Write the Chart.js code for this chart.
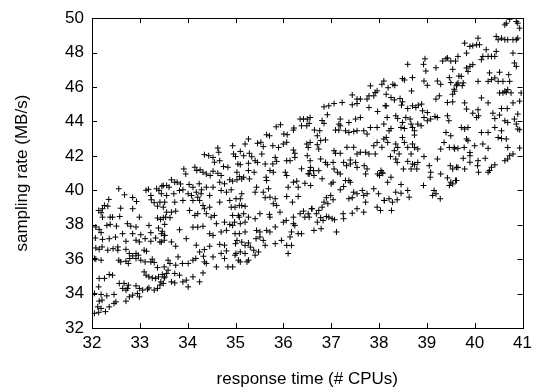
<!DOCTYPE html>
<html><head><meta charset="utf-8">
<style>html,body{margin:0;padding:0;background:#fff}#wrap{width:537px;height:392px}</style>
<script src="https://cdn.jsdelivr.net/npm/chart.js@4/dist/chart.umd.min.js"></script>
</head><body><div id="wrap"><canvas id="c" width="537" height="392"></canvas></div>
<script>
const xTickValues = [32,33,34,35,36,37,38,39,40,41];
const yTickValues = [32,34,36,38,40,42,44,46,48,50];
const xTitle = 'response time (# CPUs)';
const yTitle = 'sampling rate (MB/s)';

const zoneA = [[32.56,40.09],[33.13,40.0],[33.18,40.06],[33.35,40.09],[33.40,40.0],[33.46,40.24],[33.23,39.70],[33.24,39.45],[32.68,39.74],[32.85,39.58],[32.93,39.35],[32.35,39.47],[33.30,39.28],[33.37,39.08],[33.42,39.31],[32.26,39.12],[32.33,39.08],[32.22,38.93],[32.14,38.83],[32.19,38.70],[32.60,38.96],[32.85,38.93],[32.99,38.44],[32.43,38.44],[32.38,38.44],[32.58,38.48],[32.22,38.44],[33.37,38.39],[33.43,38.31],[33.54,38.44],[32.08,37.87],[32.15,37.73],[32.31,37.96],[32.38,38.02],[32.51,37.92],[32.74,38.06],[32.81,37.92],[32.92,37.87],[33.19,37.96],[33.23,37.54],[33.39,37.81],[33.47,37.62],[33.51,37.38],[32.64,37.48],[32.85,37.48],[33.02,37.42],[32.19,37.54]];
const zoneB = [[32.07,37.23],[32.22,37.15],[32.36,37.19],[32.49,37.28],[32.71,37.04],[32.92,37.10],[32.99,37.0],[33.11,37.19],[33.23,37.04],[33.33,37.23],[33.42,37.0],[33.51,37.10],[32.08,36.65],[32.15,36.57],[32.21,36.71],[32.33,36.52],[32.44,36.61],[32.54,36.71],[32.54,36.52],[32.71,36.57],[32.78,36.33],[32.85,36.19],[32.92,36.33],[32.97,36.23],[33.09,36.52],[33.14,36.46],[32.05,36.04],[32.08,36.0],[32.19,35.94],[32.56,35.94],[32.60,35.84],[32.71,35.88],[32.76,35.75],[32.79,36.04],[32.92,36.04],[33.02,35.94],[33.11,35.84],[33.23,35.84],[33.26,36.0],[33.30,35.81],[33.37,35.51],[33.51,35.55],[33.09,35.26],[33.13,35.07],[33.19,34.97],[33.26,34.91],[33.33,34.88],[33.39,34.97],[33.47,35.11],[33.51,34.91],[33.44,34.68],[32.15,34.88],[32.26,34.88],[32.36,35.11],[32.43,35.07],[32.14,34.39],[32.57,34.59],[32.67,34.59],[32.76,34.49],[32.64,34.30],[32.74,34.30],[32.71,34.20],[32.92,34.45],[32.99,34.30],[33.06,34.20],[33.16,34.26],[33.19,34.33],[33.30,34.20],[33.37,34.30],[32.05,34.01],[32.19,33.95],[32.31,33.87],[32.46,33.95],[32.50,33.52],[32.71,33.56],[32.78,33.81],[32.85,33.91],[32.95,34.01],[32.99,33.81],[32.12,33.23],[32.19,33.14],[32.14,32.91],[32.28,32.95],[32.36,33.23],[32.46,33.43],[32.05,32.85],[32.15,33.56],[32.21,33.62]];
const zoneC = [[34.63,42.46],[34.65,42.21],[34.94,42.59],[34.35,42.07],[34.44,42.01],[34.53,41.91],[34.56,41.63],[34.67,41.72],[34.75,41.38],[34.84,41.34],[35.0,41.96],[35.05,41.53],[33.92,41.24],[33.96,40.95],[34.15,41.34],[34.19,41.15],[34.26,41.19],[34.32,41.05],[34.39,40.95],[34.47,40.86],[34.53,41.11],[34.63,40.99],[34.70,40.86],[33.66,40.61],[33.73,40.47],[33.78,40.47],[33.85,40.37],[33.49,40.28],[33.56,40.28],[33.61,40.18],[34.03,40.34],[34.11,40.18],[34.24,40.38],[34.29,40.03],[34.39,40.18],[34.53,40.18],[34.67,40.47],[34.77,40.38],[34.88,40.61],[34.94,40.53],[35.03,40.61],[35.08,40.80],[33.45,39.80],[33.56,39.70],[33.71,39.80],[33.83,39.99],[33.90,40.03],[34.01,39.80],[34.08,39.70],[34.18,39.89],[34.21,39.60],[34.28,39.80],[34.46,39.70],[34.70,39.99],[34.81,39.89],[34.91,40.03],[33.52,39.31],[33.73,39.31],[33.90,39.41],[34.11,39.41],[34.25,39.41],[34.32,39.12],[34.46,39.02],[34.67,39.31],[34.88,39.41],[35.01,39.51],[35.08,39.12],[33.49,39.02],[33.56,38.73],[33.66,38.73],[33.75,38.79],[34.04,38.83],[34.15,38.54],[34.21,38.64],[34.35,38.93],[34.39,38.64],[34.49,38.44],[34.56,38.54],[34.91,39.02],[34.94,38.54],[35.08,38.44],[33.49,38.41],[33.63,38.41]];
const zoneD = [[33.52,38.02],[33.83,37.71],[33.97,37.19],[34.11,37.86],[34.21,37.86],[34.32,37.91],[34.46,37.48],[34.53,37.38],[34.60,38.06],[34.70,37.58],[34.81,37.67],[34.88,38.02],[34.94,37.96],[34.98,38.15],[34.77,38.15],[33.45,37.48],[33.45,37.0],[33.52,37.38],[33.66,37.0],[33.75,36.75],[34.18,36.81],[34.25,36.42],[34.35,36.56],[34.46,36.75],[34.67,36.86],[34.77,36.81],[34.81,36.48],[35.0,36.90],[35.01,36.33],[34.70,36.33],[33.59,35.94],[33.63,35.75],[33.75,35.65],[33.80,36.13],[33.89,35.75],[34.01,35.75],[34.11,35.94],[34.17,36.04],[34.33,36.17],[34.35,35.84],[34.39,35.75],[34.53,36.13],[34.60,35.55],[34.77,36.04],[34.84,35.55],[34.94,35.55],[33.59,35.36],[33.56,35.17],[33.73,35.17],[33.83,35.07],[34.32,35.20],[34.25,34.68],[33.90,34.68],[33.97,34.78],[34.11,34.97],[33.52,34.97],[33.66,34.68],[33.73,34.62],[33.49,34.59],[34.01,34.39],[33.42,34.49]];
const zoneE = [[36.35,44.14],[36.42,44.14],[36.22,43.62],[36.21,43.50],[36.38,43.75],[36.49,43.75],[36.56,44.23],[35.85,43.69],[35.94,43.81],[35.65,43.23],[35.71,43.17],[36.01,43.27],[36.08,43.23],[35.27,42.98],[35.46,42.73],[35.53,42.79],[35.20,42.69],[35.58,42.54],[35.78,42.59],[35.90,42.49],[36.0,42.69],[36.07,42.79],[36.49,42.69],[36.52,42.49],[36.21,42.34],[36.24,42.15],[34.96,42.11],[35.10,42.26],[35.17,42.01],[35.29,42.15],[35.34,41.95],[35.46,41.62],[35.55,42.11],[35.62,41.53],[35.78,41.53],[35.83,41.91],[35.86,41.68],[36.07,41.72],[36.14,41.72],[36.24,41.91],[36.56,41.72],[35.10,41.49],[35.27,41.57],[35.41,41.72],[35.03,41.05],[35.27,41.15],[35.39,41.05],[35.72,41.15],[35.79,41.05],[36.04,41.05],[36.07,40.86],[36.38,41.25],[36.52,40.96],[36.56,41.15],[35.17,40.76],[35.13,40.66],[35.29,40.66],[35.64,40.76],[35.65,40.57],[36.21,40.47],[36.28,40.53],[36.31,40.18],[36.10,40.18],[35.44,40.18],[35.69,40.09],[36.45,40.41]];
const zoneF = [[35.13,39.80],[35.10,39.51],[35.13,39.12],[35.20,39.07],[35.41,39.89],[35.58,39.89],[35.62,39.57],[35.72,39.60],[35.83,39.51],[35.79,39.22],[35.86,39.12],[36.07,39.64],[36.19,39.31],[36.31,39.64],[36.59,38.93],[36.42,38.79],[36.52,38.64],[34.99,39.02],[35.06,38.54],[35.17,38.64],[35.27,38.44],[35.10,38.06],[35.20,38.15],[35.41,38.35],[35.51,38.64],[35.71,38.60],[35.72,38.44],[35.93,38.73],[36.0,38.15],[36.06,38.25],[36.21,38.44],[36.24,37.96],[36.35,38.64],[36.45,38.44],[34.99,37.48],[35.08,37.48],[35.20,37.58],[35.44,37.67],[35.51,37.58],[35.65,37.67],[35.72,37.58],[35.83,37.87],[36.17,37.58],[36.31,37.48],[36.38,37.48],[36.21,38.06],[35.03,37.09],[35.13,36.99],[35.27,36.94],[35.20,36.80],[35.31,36.70],[35.43,37.19],[35.51,37.29],[35.58,37.09],[35.62,36.80],[35.38,36.52],[35.41,36.23],[35.10,36.42],[35.20,36.33],[35.83,36.90],[35.96,37.09],[36.07,36.80],[36.17,36.80],[36.14,37.29],[36.10,36.33],[34.99,36.23],[35.06,35.94],[35.27,35.94],[35.24,35.84],[35.10,35.84],[35.48,36.42]];
const zoneG = [[37.82,46.07],[37.89,45.49],[37.92,45.68],[37.96,45.78],[37.79,45.49],[37.75,45.30],[38.06,46.16],[38.13,44.91],[37.44,45.54],[37.54,45.30],[37.61,45.30],[37.23,45.10],[37.06,45.04],[36.95,44.91],[36.85,44.85],[37.44,44.97],[37.54,45.04],[37.79,44.81],[37.97,44.58],[36.92,44.39],[37.19,44.14],[37.16,43.85],[37.19,43.75],[37.37,43.94],[37.51,44.14],[37.61,44.23],[37.54,43.46],[37.68,43.46],[37.75,43.27],[37.82,43.65],[37.96,43.65],[38.10,43.85],[38.17,44.23],[36.50,44.14],[36.54,43.89],[36.81,44.05],[36.85,43.89],[36.65,43.50],[36.76,43.46],[37.30,43.46],[37.37,43.36],[37.47,43.42],[37.16,43.50],[37.09,43.50],[36.71,43.17],[36.78,42.89],[36.88,42.93],[36.71,42.65],[36.56,42.78],[36.74,42.40],[37.06,42.30],[37.09,42.15],[37.19,42.15],[37.33,42.50],[37.47,42.50],[37.61,42.21],[37.72,42.21],[37.79,42.11],[37.89,42.59],[37.96,42.78],[38.06,42.50],[38.10,42.98],[37.92,42.11],[37.54,42.11],[36.50,42.01],[36.78,41.82],[37.40,41.76]];
const zoneH = [[36.57,41.33],[36.63,41.14],[36.54,40.95],[36.64,40.86],[36.74,41.14],[36.81,40.67],[36.88,41.62],[36.92,41.49],[37.04,41.62],[37.06,41.24],[37.13,41.05],[37.19,40.95],[37.26,41.62],[37.32,41.43],[37.40,41.53],[37.51,41.62],[37.54,41.33],[37.69,41.43],[37.75,41.24],[37.72,40.95],[37.97,40.95],[38.06,41.05],[38.01,40.86],[36.57,40.28],[37.0,40.37],[37.04,40.47],[37.30,40.57],[37.37,40.57],[37.40,40.47],[37.19,40.03],[37.26,40.22],[37.37,39.51],[37.44,39.57],[37.47,39.89],[37.54,39.80],[37.65,39.99],[37.68,39.70],[37.75,39.80],[37.89,40.09],[37.99,39.80],[38.11,39.41],[37.72,39.31],[37.96,39.02],[38.03,38.83],[37.68,38.73],[37.54,38.93],[37.44,38.67],[37.26,38.35],[37.25,38.64],[36.90,39.57],[36.99,39.70],[37.04,39.45],[36.85,39.31],[36.93,39.22],[36.81,39.02],[36.74,38.83],[36.69,38.64],[36.60,38.93],[36.54,38.44],[36.71,38.15],[36.78,38.41],[36.83,38.25],[36.90,38.48],[36.95,38.44],[37.02,38.35],[37.07,38.29],[36.64,37.67],[36.79,37.77],[37.11,37.58]];
const zoneI = [[38.60,47.32],[38.96,47.64],[38.93,47.32],[38.98,46.93],[38.94,46.35],[39.01,46.10],[39.19,47.12],[39.22,46.35],[39.33,47.51],[39.40,47.64],[39.43,47.69],[39.50,47.51],[39.54,47.03],[39.60,47.51],[39.47,46.55],[39.29,46.16],[39.50,46.26],[39.57,45.87],[39.63,46.16],[39.67,46.64],[38.10,46.35],[38.29,46.16],[38.33,46.10],[38.19,45.96],[38.49,46.49],[38.53,46.41],[38.70,46.55],[38.68,45.77],[38.15,45.58],[38.25,45.39],[38.32,45.25],[38.44,45.33],[38.49,45.14],[38.47,44.95],[38.60,44.75],[38.70,44.91],[38.77,44.81],[38.82,44.95],[38.89,45.01],[38.91,44.62],[39.19,45.30],[39.26,45.49],[39.43,45.10],[39.54,45.14],[39.54,45.58],[38.15,44.91],[38.35,44.33],[38.39,44.17],[38.56,44.23],[38.65,44.14],[38.49,43.94],[38.67,43.85],[38.25,43.59],[38.21,43.46],[38.46,43.65],[38.53,43.59],[38.70,43.65],[38.74,43.46],[38.74,43.21],[38.81,43.85],[38.88,43.75],[38.94,44.23],[39.01,44.04],[39.08,44.14],[39.17,44.29],[39.22,44.23],[39.43,44.33],[39.46,44.04],[39.40,43.36],[39.50,43.17],[38.15,43.07],[38.49,43.07],[39.01,44.52]];
const zoneJ = [[38.18,42.78],[38.35,42.69],[38.39,42.49],[38.53,42.78],[38.60,42.49],[38.70,42.69],[38.74,42.49],[38.81,42.40],[38.32,42.30],[38.42,42.11],[38.67,42.11],[38.24,41.96],[38.35,41.82],[38.38,41.62],[38.94,41.96],[38.60,41.68],[38.70,41.53],[38.74,41.49],[38.81,41.62],[38.79,41.24],[38.67,41.24],[38.51,41.24],[39.05,41.43],[39.22,41.82],[39.29,42.40],[39.36,42.78],[39.47,42.49],[39.57,42.49],[39.49,41.43],[39.54,41.24],[39.65,41.33],[39.08,41.05],[39.29,40.95],[39.07,40.76],[39.43,40.72],[39.50,40.47],[39.60,40.57],[38.04,41.15],[38.08,40.99],[38.18,40.47],[38.25,40.76],[38.46,40.34],[38.35,39.89],[38.46,39.83],[38.60,39.99],[38.63,39.60],[38.11,39.41],[38.21,39.51],[38.28,39.31],[38.38,39.45],[38.26,38.83],[38.93,40.28],[39.15,39.99],[39.19,39.80],[39.12,39.70],[39.28,39.51],[39.47,40.28],[39.54,40.37]];
const zoneK = [[40.63,49.61],[40.66,49.71],[40.73,49.94],[40.90,49.71],[40.94,49.42],[40.87,49.81],[40.45,48.94],[40.49,48.75],[40.56,48.84],[40.63,48.75],[40.69,48.75],[40.80,48.75],[40.87,48.75],[40.90,48.84],[40.80,47.97],[40.83,47.40],[40.87,47.20],[40.07,48.84],[39.79,48.55],[39.90,48.36],[39.96,48.40],[40.04,48.46],[40.10,48.46],[39.83,47.97],[40.24,48.17],[40.17,47.78],[40.28,47.78],[40.35,47.78],[40.42,47.78],[40.45,48.07],[40.14,47.59],[39.96,47.30],[39.90,47.20],[39.83,47.11],[39.86,46.91],[39.65,47.78],[39.72,46.62],[39.65,46.24],[39.76,46.24],[39.74,46.08],[39.62,46.08],[39.58,45.76],[39.79,45.08],[40.07,46.33],[40.28,46.33],[40.35,46.43],[40.42,46.53],[40.52,46.86],[40.49,46.33],[40.59,46.33],[40.71,46.72],[40.73,46.33],[40.31,46.82],[40.52,45.66],[40.59,45.66],[40.63,45.76],[40.69,45.85],[40.66,45.70],[40.76,45.66],[40.97,45.66],[40.94,45.18],[40.14,45.37],[40.28,45.08],[40.80,45.08]];
const zoneL = [[39.83,44.72],[39.96,44.48],[40.07,44.68],[40.04,44.23],[40.08,44.33],[40.38,44.48],[40.42,44.17],[40.52,44.37],[40.56,44.75],[40.68,44.75],[40.63,44.04],[40.69,43.94],[40.83,44.14],[40.90,44.43],[40.87,43.85],[40.94,43.52],[40.90,43.56],[40.42,43.65],[40.49,43.07],[40.56,43.01],[40.56,43.46],[40.66,42.98],[39.72,43.65],[39.79,43.56],[39.86,43.65],[39.83,42.98],[39.86,42.88],[40.14,43.36],[40.28,43.36],[40.0,42.59],[40.17,42.69],[40.28,42.44],[39.65,42.44],[39.78,42.49],[39.90,42.20],[39.90,42.01],[39.76,41.86],[39.62,41.34],[39.79,41.24],[39.90,41.63],[40.07,41.72],[40.06,41.43],[40.22,41.86],[40.08,41.05],[40.28,41.05],[40.31,41.15],[40.35,41.34],[40.42,41.48],[40.63,41.72],[40.69,41.82],[40.73,42.01],[40.80,42.11],[40.69,42.49],[40.94,42.46],[39.62,40.57],[39.58,42.40]];

const allPoints = [zoneA,zoneB,zoneC,zoneD,zoneE,zoneF,zoneG,zoneH,zoneI,zoneJ,zoneK,zoneL]
  .flat().map(([x,y]) => ({x, y}));

const FONT = "'Liberation Sans', Arial, Helvetica, sans-serif";

const framePlugin = {
  id: 'frame',
  afterDatasetsDraw(chart) {
    const {ctx, chartArea: a, scales: {x, y}} = chart;
    const t = 5;
    ctx.save();
    ctx.strokeStyle = '#000';
    ctx.lineWidth = 1;
    ctx.beginPath();
    xTickValues.forEach(v => {
      const px = Math.round(x.getPixelForValue(v)) + 0.5;
      ctx.moveTo(px, a.bottom); ctx.lineTo(px, a.bottom - t);
      ctx.moveTo(px, a.top); ctx.lineTo(px, a.top + t);
    });
    yTickValues.forEach(v => {
      const py = Math.round(y.getPixelForValue(v)) + 0.5;
      ctx.moveTo(a.left, py); ctx.lineTo(a.left + t, py);
      ctx.moveTo(a.right, py); ctx.lineTo(a.right - t, py);
    });
    ctx.stroke();
    ctx.strokeRect(Math.round(a.left) + 0.5, Math.round(a.top) + 0.5,
      Math.round(a.right - a.left), Math.round(a.bottom - a.top));
    ctx.restore();
  }
};

new Chart(document.getElementById('c'), {
  type: 'scatter',
  data: {
    datasets: [{
      data: allPoints,
      pointStyle: 'cross',
      radius: 3,
      borderWidth: 1,
      borderColor: '#000',
      backgroundColor: '#000'
    }]
  },
  options: {
    responsive: false,
    animation: false,
    devicePixelRatio: 1,
    layout: { padding: { top: 17, right: 13, left: 0, bottom: 0 } },
    plugins: { legend: { display: false }, tooltip: { enabled: false } },
    scales: {
      x: {
        type: 'linear', min: 32, max: 41,
        afterBuildTicks: s => { s.ticks = xTickValues.map(v => ({value: v})); },
        afterFit: s => { s.height = 64; },
        grid: { display: false, drawTicks: false },
        border: { display: false },
        ticks: { color: '#000', padding: 5, maxRotation: 0, font: { family: FONT, size: 17 } },
        title: { display: true, text: xTitle, color: '#000', padding: { top: 4, bottom: 2 }, font: { family: FONT, size: 17 } }
      },
      y: {
        type: 'linear', min: 32, max: 50,
        afterBuildTicks: s => { s.ticks = yTickValues.map(v => ({value: v})); },
        afterFit: s => { s.width = 92; },
        grid: { display: false, drawTicks: false },
        border: { display: false },
        ticks: { color: '#000', padding: 8, font: { family: FONT, size: 17 } },
        title: { display: true, text: yTitle, color: '#000', padding: { top: 12, bottom: 4 }, font: { family: FONT, size: 17 } }
      }
    }
  },
  plugins: [framePlugin]
});
</script>
</body></html>
